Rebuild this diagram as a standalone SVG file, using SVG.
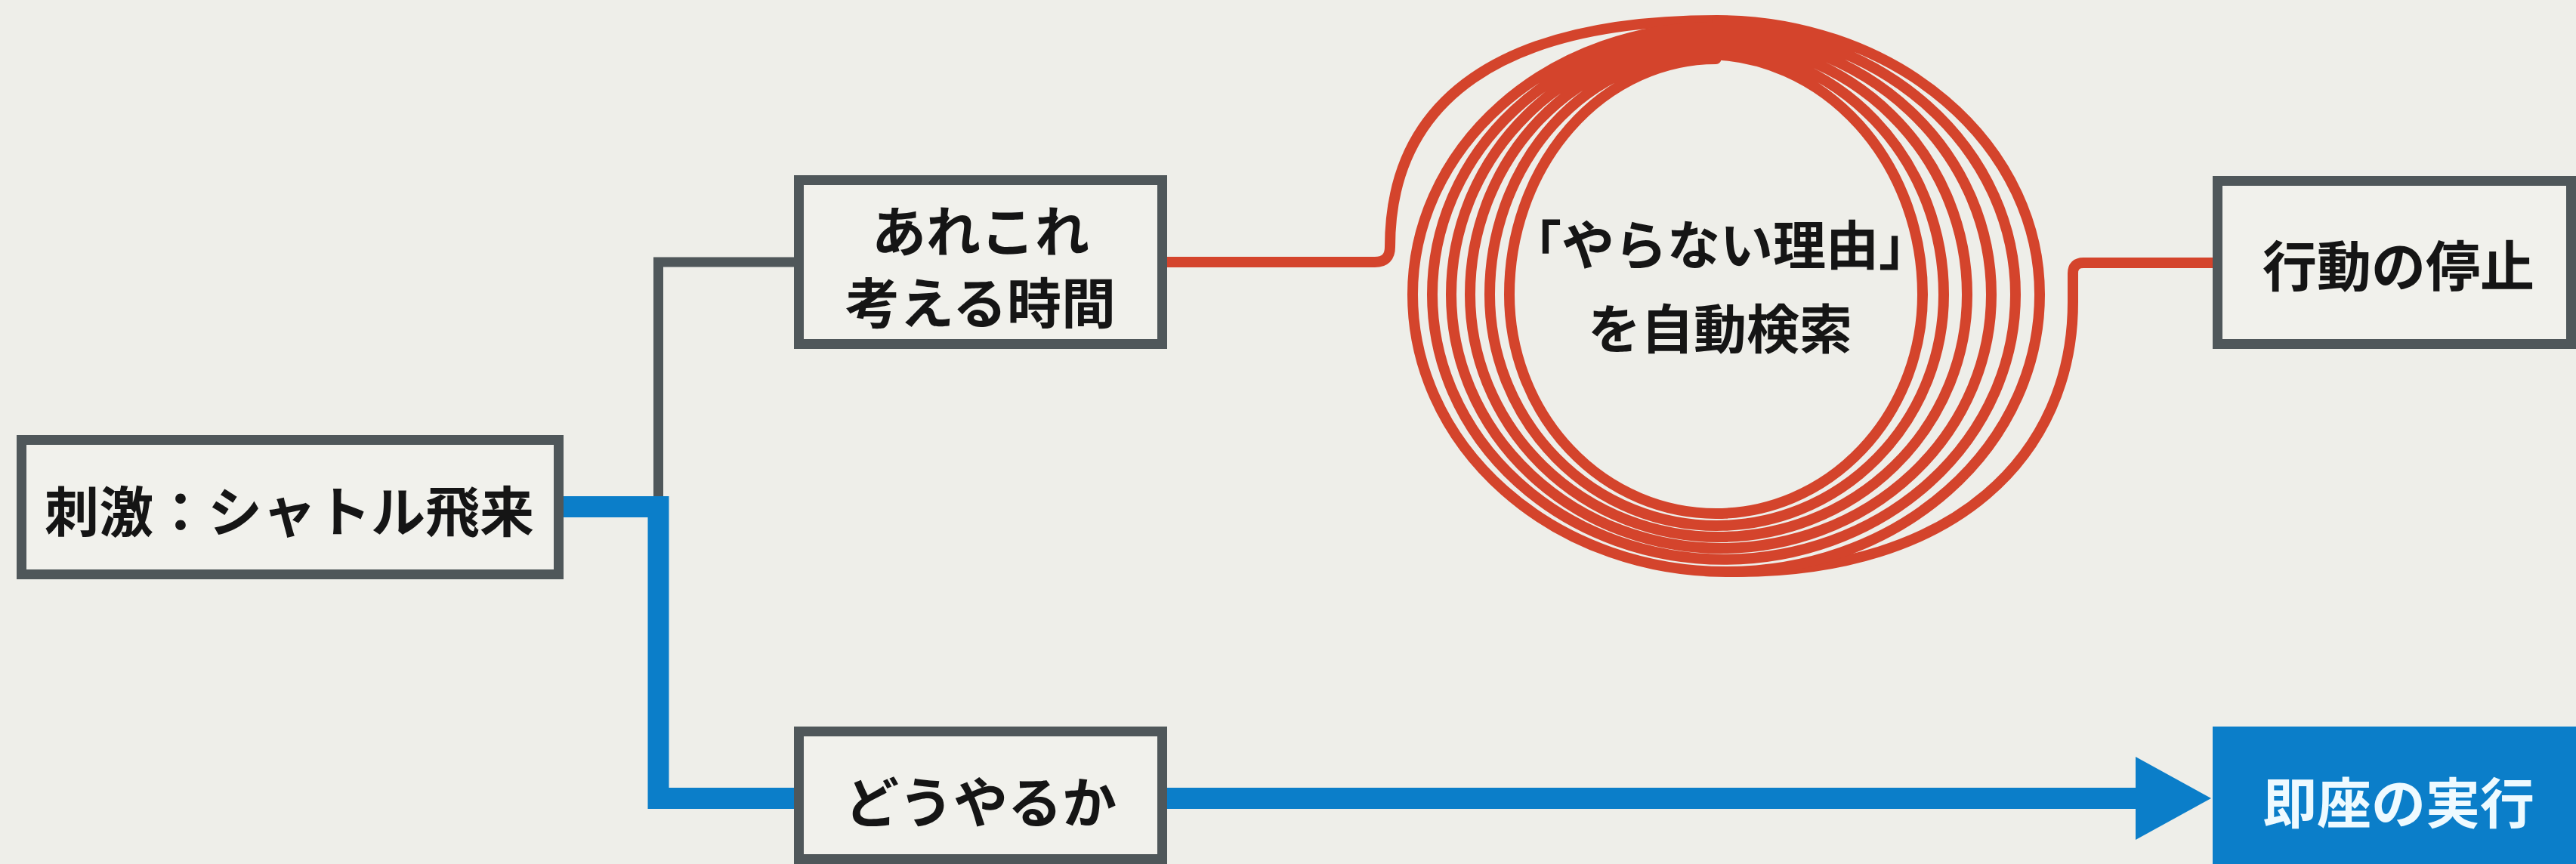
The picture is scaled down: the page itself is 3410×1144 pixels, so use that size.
<svg xmlns="http://www.w3.org/2000/svg" width="3410" height="1144" viewBox="0 0 3410 1144">
<style>
.bg{fill:#eeeee9}
.box{fill:#f1f1ec;stroke:#4f575a;stroke-width:13}
.t{font-family:"Noto Sans CJK JP","Noto Sans CJK SC",sans-serif;font-weight:700;font-size:72px;fill:#151515;text-anchor:middle;dominant-baseline:central}
.tw{fill:#eefaff}
.gray{fill:none;stroke:#4f575a;stroke-width:13}
.blue{fill:none;stroke:#0b7ec9;stroke-width:28}
.red{fill:none;stroke:#d4442c;stroke-width:14;stroke-linejoin:round}
</style>
<rect class="bg" x="0" y="0" width="3410" height="1144"/>
<g id="connectors">
<path class="gray" d="M871.5,671 V347 H1051"/>
<path class="blue" d="M746,671 H871.5 V1057 H1051"/>
<path class="blue" d="M1544,1057 H2830"/>
<polygon points="2827,1002 2927,1057 2827,1112" fill="#0b7ec9"/>
<path class="red" d="M1545,347 H1820 Q1840,347 1840,327 C1840,130 1990,27 2273,27"/>
<path class="red" stroke-linecap="round" d="M2290,757 C2590,760 2744,600 2744,400 V362 Q2744,348 2758,348 H2929"/>
</g>
<g id="node-stimulus">
<rect class="box" x="28.5" y="582.5" width="711" height="178"/>
<text class="t" x="383" y="672">刺激：シャトル飛来</text>
</g>
<g id="node-thinking">
<rect class="box" x="1057.5" y="238.5" width="481" height="217"/>
<text class="t" x="1298" y="301">あれこれ</text>
<text class="t" x="1298" y="396">考える時間</text>
</g>
<g id="node-how">
<rect class="box" x="1057.5" y="968.5" width="481" height="169"/>
<text class="t" x="1298" y="1057">どうやるか</text>
</g>
<g id="node-loop">
<path class="red" stroke-linecap="round" d="M2273,27 A427,363 0 0 1 2700,390 A415,367 0 0 1 1870,390 A399,354 0 0 1 2668,390 A386,351 0 0 1 1896,390 A370,345 0 0 1 2636,390 A357.5,336 0 0 1 1921,390 A341.5,336 0 0 1 2604,390 A329,321 0 0 1 1946,390 A313.5,327 0 0 1 2573,390 A300.5,306 0 0 1 1972,390 A286.5,318 0 0 1 2545,390 A273.5,290 0 0 1 1998,390 A273.5,312 0 0 1 2271.5,78"/>
<text class="t" x="2277" y="320" style="font-size:70px">「やらない理由」</text>
<text class="t" x="2277" y="431" style="font-size:70px">を自動検索</text>
</g>
<g id="node-stop">
<rect class="box" x="2935.5" y="239.5" width="468" height="216"/>
<text class="t" x="3175" y="347">行動の停止</text>
</g>
<g id="node-exec">
<rect x="2929" y="962" width="481" height="182" fill="#0b7ec9"/>
<text class="t tw" x="3175" y="1058">即座の実行</text>
</g>
</svg>
